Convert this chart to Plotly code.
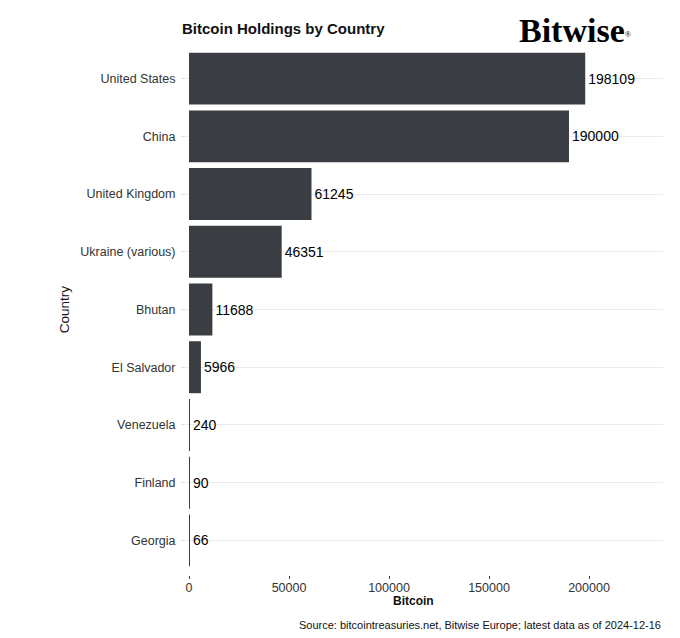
import plotly.graph_objects as go

countries = ["United States", "China", "United Kingdom", "Ukraine (various)", "Bhutan",
             "El Salvador", "Venezuela", "Finland", "Georgia"]
bitcoin = [198109, 190000, 61245, 46351, 11688, 5966, 240, 90, 66]
x_ticks = [0, 50000, 100000, 150000, 200000]

fig = go.Figure()
fig.add_trace(go.Bar(
    x=bitcoin, y=countries, orientation="h",
    marker=dict(color="#3a3d42", line=dict(width=0)),
    width=0.9,
    text=[str(v) for v in bitcoin], textposition="outside",
    textfont=dict(family="Liberation Sans, Arial", size=14, color="#000000"),
    cliponaxis=False,
))

fig.update_layout(
    width=672, height=630,
    margin=dict(l=178, r=17, t=36, b=63),
    paper_bgcolor="white", plot_bgcolor="white",
    showlegend=False,
    font=dict(family="Liberation Sans, Arial", color="#333333"),
    xaxis=dict(
        range=[-1500, 237000], tickvals=x_ticks, ticktext=[str(t) for t in x_ticks],
        showgrid=False, zeroline=False, ticks="outside", ticklen=3, tickcolor="#444444",
        ticklabelstandoff=-2,
        tickfont=dict(size=12.5, color="#333333"),
    ),
    yaxis=dict(
        categoryorder="array", categoryarray=countries, range=[8.6, -0.6],
        showgrid=True, gridcolor="#ececec", gridwidth=1,
        ticks="outside", ticklen=4, tickcolor="#dddddd",
        ticklabelstandoff=3,
        tickfont=dict(size=12.5, color="#333333"),
        title=dict(text="Country", font=dict(size=13.5, color="#111111"), standoff=7),
    ),
    bargap=0.1,
)

fig.add_annotation(text="<b>Bitcoin Holdings by Country</b>", xref="paper", yref="paper",
                   x=0, y=1.0, xshift=-6, yshift=16, xanchor="left", yanchor="middle", showarrow=False,
                   font=dict(size=15, color="#111111", family="Liberation Sans, Arial"))
fig.add_annotation(text="<b>Bitwise</b><span style='font-size:12px'><sup>®</sup></span>",
                   xref="paper", yref="paper",
                   x=1.0, y=1.0, xshift=-29, yshift=14, xanchor="right", yanchor="middle", showarrow=False,
                   font=dict(size=34, color="#000000", family="Liberation Serif, Times New Roman, serif"))
fig.add_annotation(text="<b>Bitcoin</b>", xref="x", yref="paper", x=112000, y=0, yshift=-26,
                   xanchor="center", yanchor="middle", showarrow=False,
                   font=dict(size=12, color="#111111", family="Liberation Sans, Arial"))
fig.add_annotation(text="Source: bitcointreasuries.net, Bitwise Europe; latest data as of 2024-12-16",
                   xref="paper", yref="paper", x=1.0, y=0, yshift=-50, xanchor="right", yanchor="middle",
                   showarrow=False, font=dict(size=11, color="#111111", family="Liberation Sans, Arial"))

fig.write_html("out.html")
